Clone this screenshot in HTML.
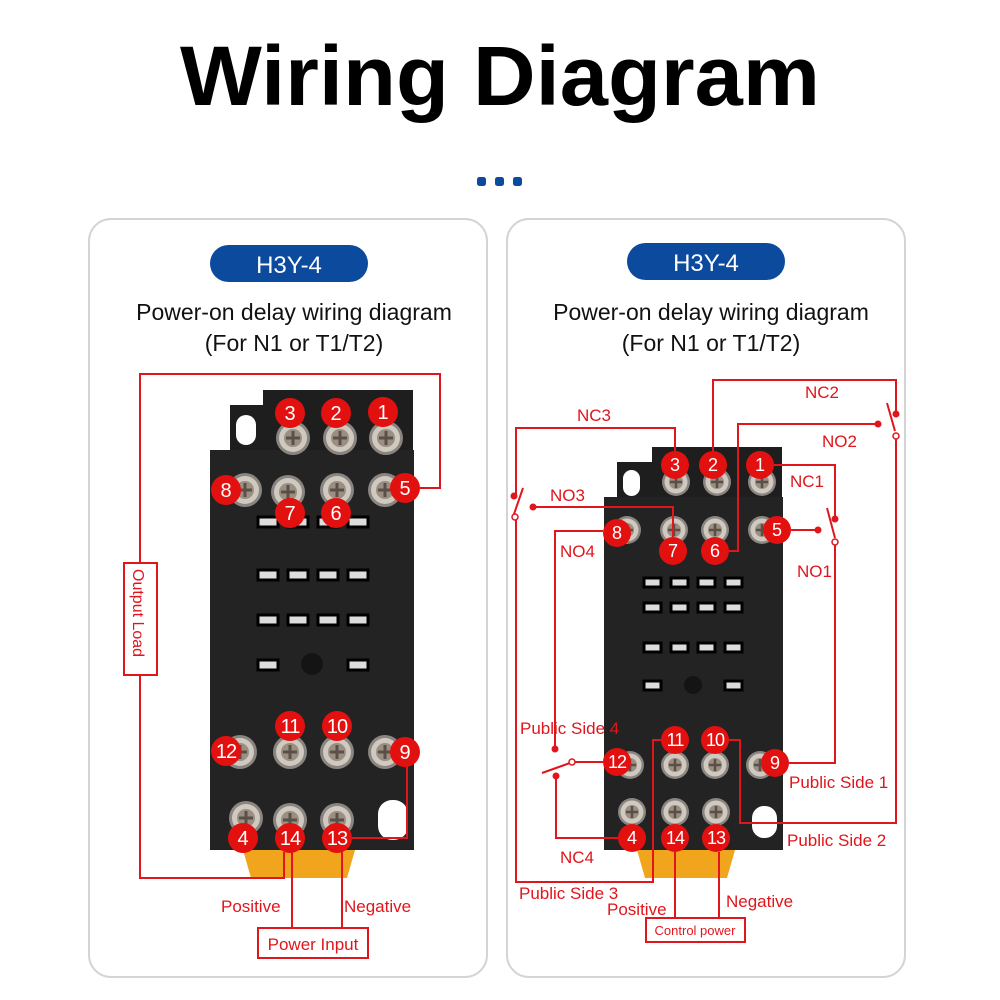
<!DOCTYPE html>
<html><head><meta charset="utf-8"><style>
html,body{margin:0;padding:0;background:#fff;}
svg{display:block;}
text{font-family:"Liberation Sans",sans-serif;}
</style></head><body>
<svg width="1000" height="1000" viewBox="0 0 1000 1000" xmlns="http://www.w3.org/2000/svg">
<rect width="1000" height="1000" fill="#fff"/>
<text x="500" y="105" text-anchor="middle" font-size="84" font-weight="bold" fill="#000" textLength="640" lengthAdjust="spacingAndGlyphs">Wiring Diagram</text>
<rect x="477" y="177" width="9" height="9" rx="2.5" fill="#0b4a9c"/>
<rect x="495" y="177" width="9" height="9" rx="2.5" fill="#0b4a9c"/>
<rect x="513" y="177" width="9" height="9" rx="2.5" fill="#0b4a9c"/>

<rect x="89" y="219" width="398" height="758" rx="22" fill="#fff" stroke="#d4d4d4" stroke-width="2"/>
<rect x="507" y="219" width="398" height="758" rx="22" fill="#fff" stroke="#d4d4d4" stroke-width="2"/>

<rect x="210" y="245" width="158" height="37" rx="18.5" fill="#0b4a9c"/>
<text x="289" y="273" text-anchor="middle" font-size="24" fill="#fff">H3Y-4</text>
<rect x="627" y="243" width="158" height="37" rx="18.5" fill="#0b4a9c"/>
<text x="706" y="271" text-anchor="middle" font-size="24" fill="#fff">H3Y-4</text>

<g font-size="23" fill="#111" text-anchor="middle">
<text x="294" y="320">Power-on delay wiring diagram</text>
<text x="294" y="351">(For N1 or T1/T2)</text>
<text x="711" y="320">Power-on delay wiring diagram</text>
<text x="711" y="351">(For N1 or T1/T2)</text>
</g>

<defs>
<g id="screw"><circle r="17" fill="#8a8580"/><circle r="14" fill="#cfc9c0"/><circle r="9" fill="#9a8f82"/><path d="M-7 0H7M0 -7V7" stroke="#5a5048" stroke-width="3"/></g>
<g id="screws"><circle r="14" fill="#8a8580"/><circle r="11.5" fill="#cfc9c0"/><circle r="7" fill="#9a8f82"/><path d="M-6 0H6M0 -6V6" stroke="#5a5048" stroke-width="2.5"/></g>
</defs>

<!-- LEFT RELAY -->
<g>
<path d="M230 405 h33 v-15 h150 v60 h0 v340 h0 v60 h-200 v-390 h17 z" fill="#1e1e1e"/>
<rect x="210" y="450" width="204" height="400" fill="#232323"/>
<rect x="236" y="415" width="20" height="30" rx="10" fill="#fff"/>
<rect x="378" y="800" width="30" height="40" rx="14" fill="#fff"/>
<path d="M243 850 h112 l-8 28 h-96 z" fill="#f0a51c"/>
<g fill="#ddd" stroke="#000" stroke-width="3">
<rect x="258" y="517" width="20" height="10"/><rect x="288" y="517" width="20" height="10"/><rect x="318" y="517" width="20" height="10"/><rect x="348" y="517" width="20" height="10"/>
<rect x="258" y="570" width="20" height="10"/><rect x="288" y="570" width="20" height="10"/><rect x="318" y="570" width="20" height="10"/><rect x="348" y="570" width="20" height="10"/>
<rect x="258" y="615" width="20" height="10"/><rect x="288" y="615" width="20" height="10"/><rect x="318" y="615" width="20" height="10"/><rect x="348" y="615" width="20" height="10"/>
<rect x="258" y="660" width="20" height="10"/><rect x="348" y="660" width="20" height="10"/>
</g>
<circle cx="312" cy="664" r="11" fill="#141414"/>
<use href="#screw" x="293" y="438"/><use href="#screw" x="340" y="438"/><use href="#screw" x="386" y="438"/>
<use href="#screw" x="245" y="490"/><use href="#screw" x="288" y="492"/><use href="#screw" x="337" y="490"/><use href="#screw" x="385" y="490"/>
<use href="#screw" x="240" y="752"/><use href="#screw" x="290" y="752"/><use href="#screw" x="337" y="752"/><use href="#screw" x="385" y="752"/>
<use href="#screw" x="246" y="818"/><use href="#screw" x="290" y="820"/><use href="#screw" x="337" y="820"/>
</g>

<!-- LEFT WIRES -->
<g fill="none" stroke="#e0161c" stroke-width="2">
<polyline points="418,488 440,488 440,374 140,374 140,563"/>
<polyline points="140,675 140,878 284,878 284,852"/>
<polyline points="292,852 292,928"/>
<polyline points="342,852 342,928"/>
<polyline points="407,766 407,838 352,838"/>
<rect x="124" y="563" width="33" height="112" fill="#fff"/>
<rect x="258" y="928" width="110" height="30" fill="#fff"/>
</g>
<text transform="translate(133,569) rotate(90)" font-size="16" fill="#e0161c">Output Load</text>
<text x="313" y="950" text-anchor="middle" font-size="17" fill="#e0161c">Power Input</text>
<text x="221" y="912" font-size="17" fill="#e0161c">Positive</text>
<text x="344" y="912" font-size="17" fill="#e0161c">Negative</text>

<g fill="#e31010">
<circle cx="290" cy="413" r="15"/><circle cx="336" cy="413" r="15"/><circle cx="383" cy="412" r="15"/>
<circle cx="226" cy="490" r="15"/><circle cx="290" cy="513" r="15"/><circle cx="336" cy="513" r="15"/><circle cx="405" cy="488" r="15"/>
<circle cx="290" cy="726" r="15"/><circle cx="337" cy="726" r="15"/><circle cx="226" cy="751" r="15"/><circle cx="405" cy="752" r="15"/>
<circle cx="243" cy="838" r="15"/><circle cx="290" cy="838" r="15"/><circle cx="337" cy="838" r="15"/>
</g>
<g fill="#fff" font-size="20" text-anchor="middle">
<text x="290" y="420">3</text><text x="336" y="420">2</text><text x="383" y="419">1</text>
<text x="226" y="497">8</text><text x="290" y="520">7</text><text x="336" y="520">6</text><text x="405" y="495">5</text>
<text x="290" y="733" letter-spacing="-1">11</text><text x="337" y="733" letter-spacing="-1">10</text><text x="226" y="758" letter-spacing="-1">12</text><text x="405" y="759">9</text>
<text x="243" y="845">4</text><text x="290" y="845" letter-spacing="-1">14</text><text x="337" y="845" letter-spacing="-1">13</text>
</g>

<!-- RIGHT RELAY -->
<g>
<path d="M617 462 h35 v-15 h130 v50 h0 v353 h-178 v-350 h13 z" fill="#1e1e1e"/>
<rect x="604" y="497" width="179" height="353" fill="#232323"/>
<rect x="623" y="470" width="17" height="26" rx="8.5" fill="#fff"/>
<rect x="752" y="806" width="25" height="32" rx="12" fill="#fff"/>
<path d="M637 850 h98 l-8 28 h-82 z" fill="#f0a51c"/>
<g fill="#ddd" stroke="#000" stroke-width="3">
<rect x="644" y="578" width="17" height="9"/><rect x="671" y="578" width="17" height="9"/><rect x="698" y="578" width="17" height="9"/><rect x="725" y="578" width="17" height="9"/>
<rect x="644" y="603" width="17" height="9"/><rect x="671" y="603" width="17" height="9"/><rect x="698" y="603" width="17" height="9"/><rect x="725" y="603" width="17" height="9"/>
<rect x="644" y="643" width="17" height="9"/><rect x="671" y="643" width="17" height="9"/><rect x="698" y="643" width="17" height="9"/><rect x="725" y="643" width="17" height="9"/>
<rect x="644" y="681" width="17" height="9"/><rect x="725" y="681" width="17" height="9"/>
</g>
<circle cx="693" cy="685" r="9" fill="#141414"/>
<use href="#screws" x="676" y="482"/><use href="#screws" x="717" y="482"/><use href="#screws" x="762" y="482"/>
<use href="#screws" x="627" y="530"/><use href="#screws" x="674" y="530"/><use href="#screws" x="715" y="530"/><use href="#screws" x="762" y="530"/>
<use href="#screws" x="630" y="765"/><use href="#screws" x="675" y="765"/><use href="#screws" x="715" y="765"/><use href="#screws" x="760" y="765"/>
<use href="#screws" x="632" y="812"/><use href="#screws" x="675" y="812"/><use href="#screws" x="716" y="812"/>
</g>

<!-- RIGHT WIRES -->
<g fill="none" stroke="#e0161c" stroke-width="2">
<polyline points="713,452 713,380 896,380 896,414"/>
<line x1="887" y1="403" x2="895" y2="431"/>
<polyline points="896,439 896,823 740,823 740,740 729,740"/>
<polyline points="729,551 738,551 738,424 878,424"/>
<polyline points="774,465 835,465 835,518"/>
<line x1="827" y1="508" x2="835" y2="538"/>
<polyline points="835,545 835,763 789,763"/>
<polyline points="791,530 818,530"/>
<polyline points="675,451 675,428 516,428 516,496"/>
<line x1="513" y1="517" x2="523" y2="488"/>
<polyline points="516,520 516,882 653,882 653,740 661,740"/>
<polyline points="533,507 673,507 673,537"/>
<polyline points="603,531 555,531 555,749"/>
<polyline points="603,762 575,762"/>
<line x1="542" y1="773" x2="570" y2="763"/>
<polyline points="556,776 556,838 618,838"/>
<polyline points="675,852 675,918"/>
<polyline points="719,852 719,918"/>
<rect x="646" y="918" width="99" height="24" fill="#fff"/>
</g>
<g fill="#e0161c">
<circle cx="896" cy="414" r="3.5"/><circle cx="878" cy="424" r="3.5"/>
<circle cx="835" cy="519" r="3.5"/><circle cx="818" cy="530" r="3.5"/>
<circle cx="514" cy="496" r="3.5"/><circle cx="533" cy="507" r="3.5"/>
<circle cx="555" cy="749" r="3.5"/><circle cx="556" cy="776" r="3.5"/>
</g>
<g fill="#fff" stroke="#e0161c" stroke-width="1.5">
<circle cx="896" cy="436" r="3"/><circle cx="835" cy="542" r="3"/><circle cx="515" cy="517" r="3"/><circle cx="572" cy="762" r="3"/>
</g>
<g fill="#e0161c" font-size="17">
<text x="805" y="398">NC2</text><text x="822" y="447">NO2</text>
<text x="577" y="421">NC3</text><text x="790" y="487">NC1</text>
<text x="550" y="501">NO3</text><text x="560" y="557">NO4</text>
<text x="797" y="577">NO1</text>
<text x="520" y="734">Public Side 4</text>
<text x="789" y="788">Public Side 1</text>
<text x="787" y="846">Public Side 2</text>
<text x="560" y="863">NC4</text>
<text x="519" y="899">Public Side 3</text>
<text x="607" y="915">Positive</text>
<text x="726" y="907">Negative</text>
</g>
<text x="695" y="935" text-anchor="middle" font-size="13" fill="#e0161c">Control power</text>

<g fill="#e31010">
<circle cx="675" cy="465" r="14"/><circle cx="713" cy="465" r="14"/><circle cx="760" cy="465" r="14"/>
<circle cx="617" cy="533" r="14"/><circle cx="673" cy="551" r="14"/><circle cx="715" cy="551" r="14"/><circle cx="777" cy="530" r="14"/>
<circle cx="675" cy="740" r="14"/><circle cx="715" cy="740" r="14"/><circle cx="617" cy="762" r="14"/><circle cx="775" cy="763" r="14"/>
<circle cx="632" cy="838" r="14"/><circle cx="675" cy="838" r="14"/><circle cx="716" cy="838" r="14"/>
</g>
<g fill="#fff" font-size="18" text-anchor="middle">
<text x="675" y="471">3</text><text x="713" y="471">2</text><text x="760" y="471">1</text>
<text x="617" y="539">8</text><text x="673" y="557">7</text><text x="715" y="557">6</text><text x="777" y="536">5</text>
<text x="675" y="746" letter-spacing="-1">11</text><text x="715" y="746" letter-spacing="-1">10</text><text x="617" y="768" letter-spacing="-1">12</text><text x="775" y="769">9</text>
<text x="632" y="844">4</text><text x="675" y="844" letter-spacing="-1">14</text><text x="716" y="844" letter-spacing="-1">13</text>
</g>
</svg>
</body></html>
